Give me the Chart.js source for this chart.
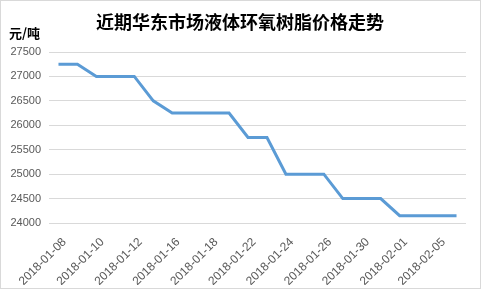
<!DOCTYPE html>
<html>
<head>
<meta charset="utf-8">
<script src="https://cdn.jsdelivr.net/npm/chart.js@4/dist/chart.umd.min.js"></script>
<style>
html,body{margin:0;padding:0;background:#fff;}
#wrap{position:relative;width:481px;height:289px;}
canvas{display:block;}
</style>
</head>
<body>
<div id="wrap"><canvas id="c" width="481" height="289"></canvas></div>
<script>
const chartTitle = '近期华东市场液体环氧树脂价格走势';
const unitLabel = '元/吨';
const categories = ['2018-01-08','2018-01-09','2018-01-10','2018-01-11','2018-01-12','2018-01-15','2018-01-16','2018-01-17','2018-01-18','2018-01-19','2018-01-22','2018-01-23','2018-01-24','2018-01-25','2018-01-26','2018-01-29','2018-01-30','2018-01-31','2018-02-01','2018-02-02','2018-02-05','2018-02-06'];
const prices = [27250,27250,27000,27000,27000,26500,26250,26250,26250,26250,25750,25750,25000,25000,25000,24500,24500,24500,24150,24150,24150,24150];
const yMin = 24000, yMax = 27500, yStep = 500;

const decor = {
  id: 'decor',
  afterDraw(chart) {
    const ctx = chart.ctx;
    ctx.save();
    ctx.strokeStyle = '#d9d9d9';
    ctx.lineWidth = 1;
    ctx.strokeRect(0.5, 0.5, 480, 288);
    ctx.fillStyle = '#000';
    ctx.textBaseline = 'middle';
    ctx.textAlign = 'center';
    ctx.font = 'bold 18px "Noto Sans CJK SC"';
    ctx.fillText(chartTitle, 240, 22);
    ctx.textAlign = 'left';
    ctx.font = 'bold 13px "Noto Sans CJK SC"';
    ctx.fillText(unitLabel, 9, 33);
    ctx.restore();
  }
};

new Chart(document.getElementById('c'), {
  type: 'line',
  data: {
    labels: categories,
    datasets: [{
      data: prices,
      borderColor: '#5B9BD5',
      borderWidth: 3,
      pointRadius: 0,
      tension: 0,
      fill: false
    }]
  },
  options: {
    responsive: false,
    animation: false,
    devicePixelRatio: 1,
    layout: { padding: { top: 52, right: 15, bottom: 4, left: 0 } },
    plugins: { legend: { display: false }, title: { display: false }, tooltip: { enabled: false } },
    scales: {
      x: {
        offset: true,
        grid: { display: false, drawTicks: false },
        border: { display: false },
        ticks: {
          autoSkip: false,
          maxRotation: 45,
          minRotation: 45,
          padding: 12,
          labelOffset: 6,
          color: '#595959',
          font: { family: '"Liberation Sans"', size: 12 },
          callback: function(v, i) { return i % 2 === 0 ? this.getLabelForValue(v) : ''; }
        },
        afterFit(s) { s.height = 62; }
      },
      y: {
        min: yMin, max: yMax,
        grid: { color: '#d9d9d9', lineWidth: 1, drawTicks: false },
        border: { display: false },
        ticks: {
          stepSize: yStep,
          padding: 8,
          color: '#595959',
          font: { family: '"Liberation Sans"', size: 11 },
          callback: (v) => String(v)
        },
        afterFit(s) { s.width = 49; }
      }
    }
  },
  plugins: [decor]
});
</script>
</body>
</html>
